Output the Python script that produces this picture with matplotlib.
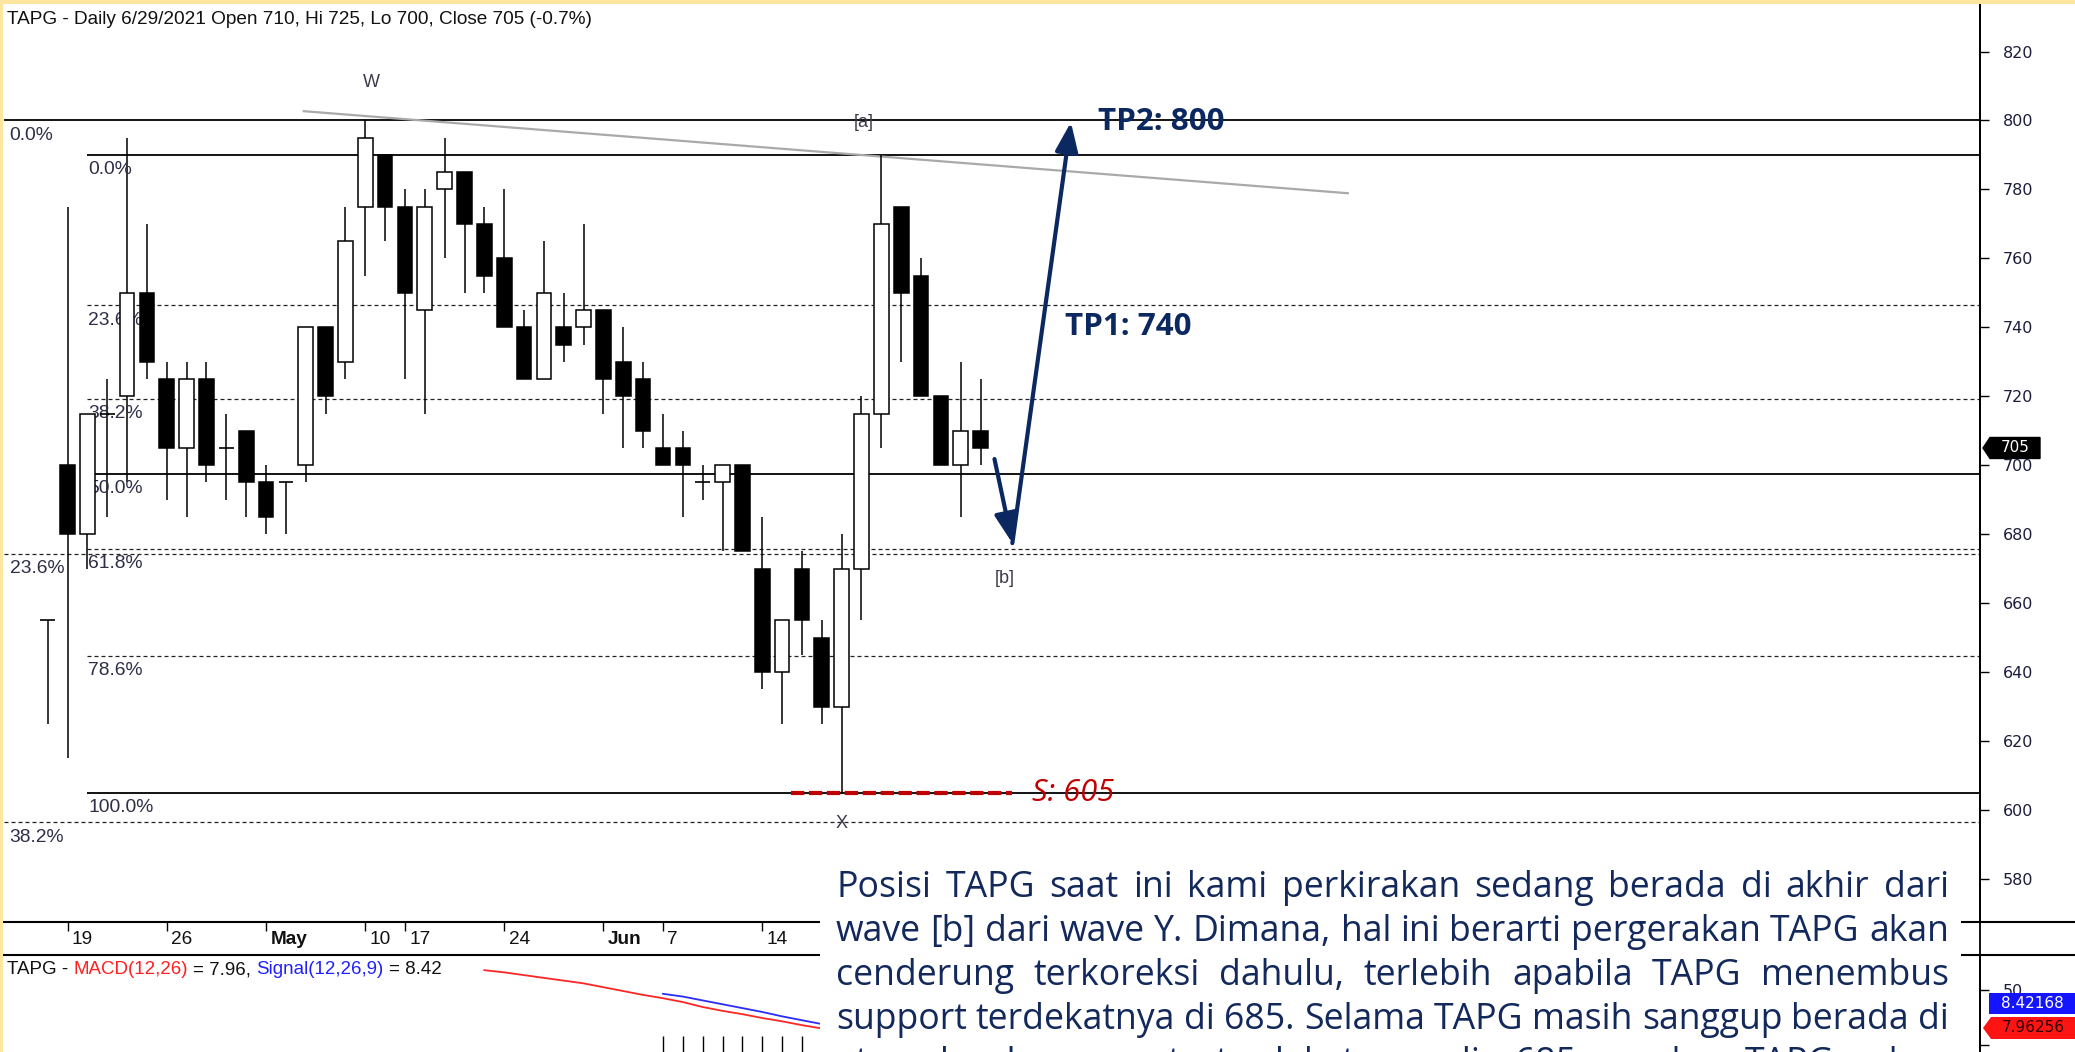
import numpy as np
import matplotlib
matplotlib.use('Agg')
import matplotlib.pyplot as plt
import matplotlib.transforms as mtransforms
from matplotlib.patches import Rectangle, Polygon
from matplotlib.lines import Line2D

W, H = 2075, 1052
NARROW = ['Liberation Sans Narrow', 'Liberation Sans', 'DejaVu Sans']
SANS = ['Open Sans', 'DejaVu Sans']
NAVY = '#0c2861'
TXT_NAVY = '#13295c'
SUPPORT_RED = '#c00000'

title = 'TAPG - Daily 6/29/2021 Open 710, Hi 725, Lo 700, Close 705 (-0.7%)'

# daily candles, x = trading-day index (0 = 19 Apr 2021, 46 = 29 Jun 2021)
idx = np.arange(-1, 47)
opens = [655, 700, 680, 715, 720, 750, 725, 705, 725, 705, 710, 695, 695, 700, 740, 730,
         775, 790, 775, 745, 780, 785, 770, 760, 740, 725, 740, 740, 745, 730, 725, 705,
         705, 695, 695, 700, 670, 640, 670, 650, 630, 670, 715, 775, 755, 720, 700, 710]
highs = [655, 775, 715, 725, 795, 770, 730, 730, 730, 715, 710, 700, 695, 740, 740, 775,
         800, 790, 780, 780, 795, 785, 775, 780, 745, 765, 750, 770, 745, 740, 730, 715,
         710, 700, 700, 700, 685, 655, 675, 655, 680, 720, 790, 775, 760, 720, 730, 725]
lows = [625, 615, 670, 685, 695, 725, 690, 685, 695, 690, 685, 680, 680, 695, 715, 725,
        755, 765, 725, 715, 760, 750, 750, 740, 725, 725, 730, 735, 715, 705, 705, 700,
        685, 690, 675, 675, 635, 625, 645, 625, 605, 655, 705, 730, 720, 700, 685, 700]
closes = [655, 680, 715, 715, 750, 730, 705, 725, 700, 705, 695, 685, 695, 740, 720, 765,
          795, 775, 750, 775, 785, 770, 755, 740, 725, 750, 735, 745, 725, 720, 710, 700,
          700, 695, 700, 675, 640, 655, 655, 630, 670, 715, 770, 750, 720, 700, 710, 705]

date_pos = [0, 5, 10, 15, 17, 22, 27, 30, 35]
date_lbl = ['19', '26', 'May', '10', '17', '24', 'Jun', '7', '14']
price_ticks = list(range(580, 821, 20))

# two fibonacci retracement sets
fib_a_pct = [0.0, 23.6, 38.2]
fib_a_top, fib_a_bot, fib_a_start = 800, 267, -3.2
fib_b_pct = [0.0, 23.6, 38.2, 50.0, 61.8, 78.6, 100.0]
fib_b_top, fib_b_bot, fib_b_start = 790, 605, 1.0

trend_x = [11.9, 64.5]
trend_y = [802.7, 778.9]

waves = [('W', 15.3, 811), ('[a]', 40.1, 799.5), ('[b]', 47.2, 667), ('X', 39.0, 596)]

support = 605
support_x = [36.45, 47.6]
path_x = [46.7, 47.6, 50.55]
path_y = [701.8, 677.4, 799.5]
tp_labels = [('TP2: 800', 51.9, 799.5), ('TP1: 740', 50.25, 740)]

macd_idx = np.arange(21, 39)
macd_val = [68, 66, 63.5, 61, 58.5, 56, 52.5, 49, 45.5, 42.5, 39, 34.5, 31, 28, 24.5, 21.5, 18, 15]
sig_idx = np.arange(30, 39)
sig_val = [46.5, 44, 40.5, 37, 33.5, 30, 26, 22.5, 19]
hist_idx = np.arange(30, 39)
hist_val = [8, 8, 8, 8, 8, 8, 8, 8, 8]
macd_last, sig_last = 7.96256, 8.42168

para_lines = [
    'Posisi TAPG saat ini kami perkirakan sedang berada di akhir dari',
    'wave [b] dari wave Y. Dimana, hal ini berarti pergerakan TAPG akan',
    'cenderung terkoreksi dahulu, terlebih apabila TAPG menembus',
    'support terdekatnya di 685. Selama TAPG masih sanggup berada di',
    'atas level support terdekatnya di 685, maka TAPG akan',
]


def fx(px):
    return px / W


def fy(py):
    return 1 - py / H


fig = plt.figure(figsize=(W / 100, H / 100), dpi=100)
fig.patch.set_facecolor('white')
r = fig.canvas.get_renderer()


def text_w(s, size, **kw):
    t = fig.text(0, 0, s, fontsize=size, **kw)
    w = t.get_window_extent(r).width
    t.remove()
    return w


def size_for(s, target, base=12, **kw):
    return base * target / text_w(s, base, **kw)


# ---- price pane
ax = fig.add_axes([fx(4), fy(922), fx(1980) - fx(4), fy(5) - fy(922)])
ax.set_xlim(-3.2, 96.35)
ax.set_ylim(567.5, 833.5)
for s in ['top', 'left', 'bottom']:
    ax.spines[s].set_visible(False)
ax.spines['right'].set_linewidth(1.3)
ax.set_xticks([])
ax.yaxis.tick_right()
ax.set_yticks(price_ticks)
ax.tick_params(axis='y', length=6.5, width=1, pad=10, labelsize=11.5, labelcolor='#1c1c3c')

bw = 0.74
for i, o, h, l, c in zip(idx, opens, highs, lows, closes):
    ax.vlines(i, l, h, color='black', lw=1.1, zorder=3)
    if c == o:
        ax.hlines(o, i - bw / 2, i + bw / 2, color='black', lw=1.2, zorder=4)
    else:
        ax.add_patch(Rectangle((i - bw / 2, min(o, c)), bw, abs(c - o),
                               facecolor='black' if c < o else 'white',
                               edgecolor='black', lw=1.1, zorder=4))

fib_size = size_for('100.0%', 65, family=NARROW)
x_end = ax.get_xlim()[1]
for pcts, top, bot, x0, dx in [(fib_a_pct, fib_a_top, fib_a_bot, fib_a_start, 4),
                               (fib_b_pct, fib_b_top, fib_b_bot, fib_b_start, 0.5)]:
    for pct in pcts:
        lvl = top - (top - bot) * pct / 100
        if pct in (0.0, 50.0, 100.0):
            ax.hlines(lvl, x0, x_end, color='black', lw=1.3, zorder=2)
        else:
            ax.hlines(lvl, x0, x_end, color='#222222', lw=0.9,
                      linestyles=[(0, (3.2, 2.4))], zorder=2)
        ax.annotate(f'{pct:.1f}%', (x0, lvl), xytext=(dx, -4.5), textcoords='offset points',
                    ha='left', va='top', family=NARROW, fontsize=fib_size, color='#2e2e48')

ax.plot(trend_x, trend_y, color='#a9a9a9', lw=1.6, zorder=2)

for s, x, y in waves:
    ax.text(x, y, s, ha='center', va='center', family=NARROW, fontsize=13, color='#3a3a4a')

ax.hlines(support, support_x[0], support_x[1], color=SUPPORT_RED, lw=3,
          linestyles=[(0, (3.2, 1.1))], zorder=5)
ax.text(48.6, support, f'S: {support}', color=SUPPORT_RED, style='italic', family=SANS,
        fontsize=size_for(f'S: {support}', 82, family=SANS, style='italic'), va='center')

for k in range(2):
    ax.annotate('', xy=(path_x[k + 1], path_y[k + 1]), xytext=(path_x[k], path_y[k]),
                arrowprops=dict(arrowstyle='-|>,head_length=0.9,head_width=0.35', color=NAVY,
                                lw=3, shrinkA=0, shrinkB=0, mutation_scale=20), zorder=6)

tp_size = size_for('TP2: 800', 127, family=SANS, weight='bold')
for s, x, y in tp_labels:
    ax.text(x, y, s, color=NAVY, family=SANS, weight='bold', fontsize=tp_size, va='center')

# last close tag
last_close = closes[-1]
trans = mtransforms.blended_transform_factory(ax.transAxes, ax.transData)
dy = 10.5 * (ax.get_ylim()[1] - ax.get_ylim()[0]) / ax.bbox.height
a0, a1, a2 = 1 + 3 / 1976, 1 + 10 / 1976, 1 + 60 / 1976
ax.add_patch(Polygon([(a0, last_close), (a1, last_close + dy), (a2, last_close + dy),
                      (a2, last_close - dy), (a1, last_close - dy)],
                     closed=True, transform=trans, clip_on=False, fc='black', ec='black'))
ax.text((a1 + a2) / 2, last_close, f'{last_close}', transform=trans, color='white',
        ha='center', va='center', fontsize=11, clip_on=False)

# ---- date band
axd = fig.add_axes([fx(4), fy(955), fx(1980) - fx(4), fy(922) - fy(955)])
axd.set_xlim(ax.get_xlim())
axd.set_ylim(0, 1)
axd.axis('off')
title_size = size_for(title, 587, family=NARROW)
for p, s in zip(date_pos, date_lbl):
    axd.vlines(p, 0.72, 1.0, color='black', lw=1)
    axd.text(p + 0.22, 0.47, s, va='center', ha='left', family=NARROW, fontsize=title_size,
             weight='bold' if s.isalpha() else 'normal', color='#111111')

# ---- MACD pane
axm = fig.add_axes([fx(4), 0, fx(1980) - fx(4), fy(955)])
axm.set_xlim(ax.get_xlim())
axm.set_ylim(-6.4, 81.8)
for s in ['top', 'left', 'bottom']:
    axm.spines[s].set_visible(False)
axm.spines['right'].set_linewidth(1.3)
axm.set_xticks([])
axm.yaxis.tick_right()
axm.set_yticks([0, 50])
axm.set_yticklabels(['', '50'])
axm.tick_params(axis='y', length=6.5, width=1, pad=10, labelsize=11.5, labelcolor='#1c1c3c')
axm.plot(macd_idx, macd_val, color='#ff2626', lw=1.3)
axm.plot(sig_idx, sig_val, color='#2b2bff', lw=1.3)
axm.vlines(hist_idx, -10, hist_val, color='black', lw=1)

macd_parts = [('TAPG -', '#111111'), ('MACD(12,26)', '#ff2020'), ('= 7.96,', '#111111'),
              ('Signal(12,26,9)', '#2020ff'), ('= 8.42', '#111111')]
full = ' '.join(p for p, _ in macd_parts)
msize = size_for(full, 435, family=NARROW)
sp = text_w('x x', msize, family=NARROW) - text_w('xx', msize, family=NARROW)
x = 7
for s, col in macd_parts:
    t = fig.text(fx(x), fy(970), s, color=col, family=NARROW, fontsize=msize, va='center')
    x += t.get_window_extent(r).width + sp

# value tags on the MACD axis
fig.add_artist(Polygon([(fx(1989), fy(993)), (fx(2075), fy(993)), (fx(2075), fy(1014)),
                        (fx(1989), fy(1014))], closed=True, transform=fig.transFigure,
                       fc='#1414ff', ec='none', zorder=4))
fig.text(fx(2032), fy(1003.5), f'{sig_last:.5f}', color='white', ha='center', va='center',
         fontsize=11, zorder=5)
fig.add_artist(Polygon([(fx(1983), fy(1028)), (fx(1991), fy(1017)), (fx(2075), fy(1017)),
                        (fx(2075), fy(1039)), (fx(1991), fy(1039))], closed=True,
                       transform=fig.transFigure, fc='#ff1414', ec='none', zorder=4))
fig.text(fx(2033), fy(1028), f'{macd_last:.5f}', color='#2a0000', ha='center', va='center',
         fontsize=11, zorder=5)

# ---- frame lines and border
for yy in (922, 955):
    fig.add_artist(Line2D([0, 1], [fy(yy), fy(yy)], color='black', lw=1.5, zorder=2))
fig.add_artist(Line2D([fx(1980), fx(1980)], [0, fy(5)], color='black', lw=1.3, zorder=2))
fig.add_artist(Rectangle((0, fy(4)), 1, fy(0) - fy(4), transform=fig.transFigure,
                         fc='#fde6a0', ec='none', zorder=3))
fig.add_artist(Rectangle((0, 0), fx(3), 1, transform=fig.transFigure,
                         fc='#fde6a0', ec='none', zorder=3))

fig.text(fx(7), fy(20), title, family=NARROW, fontsize=title_size, va='center',
         color='#111111')

# ---- comment box (its last line runs off the bottom edge, as in the source image)
fig.add_artist(Rectangle((fx(820), 0), fx(1961) - fx(820), fy(853), transform=fig.transFigure,
                         fc='white', ec='none', zorder=5))
left, right = 836, 1949
base = 20
nat = [text_w(ln, base, family=SANS) for ln in para_lines[:4]]
psize = base * (right - left) / max(nat)
baselines = [897, 941, 985, 1029, 1073]
for ln, yb in zip(para_lines, baselines):
    words = ln.split()
    ws = [text_w(w_, psize, family=SANS) for w_ in words]
    gap = (right - left - sum(ws)) / (len(words) - 1)
    x = left
    for w_, word in zip(ws, words):
        fig.text(fx(x), fy(yb), word, family=SANS, fontsize=psize, color=TXT_NAVY,
                 va='baseline', ha='left', zorder=6)
        x += w_ + gap

fig.savefig('out.png', dpi=100)
